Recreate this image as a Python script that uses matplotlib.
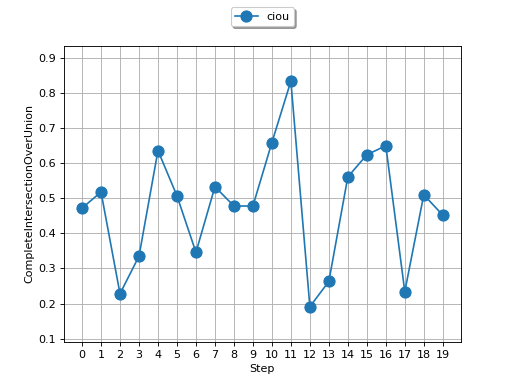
import matplotlib
matplotlib.use("Agg")
import matplotlib.pyplot as plt

steps = list(range(20))
ciou = [0.472, 0.518, 0.228, 0.335, 0.636, 0.507, 0.346, 0.533, 0.478, 0.478,
        0.659, 0.834, 0.191, 0.263, 0.561, 0.624, 0.650, 0.234, 0.510, 0.452]

fig, ax = plt.subplots(figsize=(6.4, 4.8), dpi=80)
ax.plot(steps, ciou, marker="o", markersize=10, label="ciou")
ax.set_xticks(steps)
ax.set_ylim(min(ciou) - 0.1, max(ciou) + 0.1)
ax.set_xlabel("Step")
ax.set_ylabel("CompleteIntersectionOverUnion")
ax.grid(True)
ax.legend(loc="upper center", bbox_to_anchor=(0.5, 1.15), shadow=True)

fig.savefig("out.png")
